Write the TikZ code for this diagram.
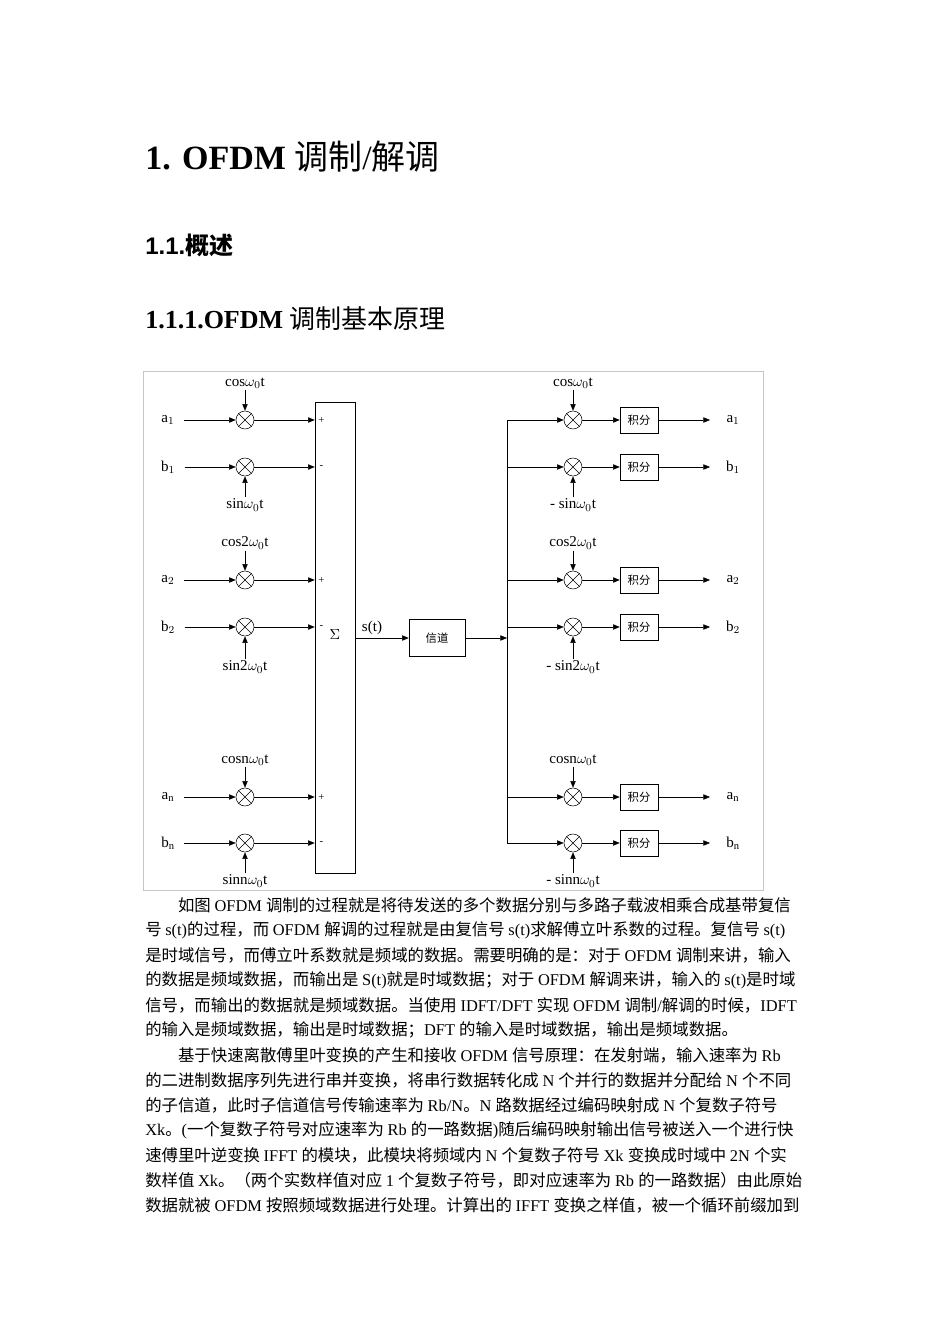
\documentclass[tikz,border=0pt]{standalone}
\usepackage{fontspec}
\setmainfont{Liberation Serif}
\setsansfont{Liberation Sans}
\newfontfamily\cjkf{Noto Sans CJK SC}
\usetikzlibrary{arrows.meta}
\newcount\mycnt
\newXeTeXintercharclass\cjkcls
\def\setcls#1#2{\mycnt=#1\relax\loop\XeTeXcharclass\mycnt=\cjkcls\ifnum\mycnt<#2\advance\mycnt1\repeat}
\setcls{"3000}{"303F}
\setcls{"4E00}{"9FFF}
\setcls{"FF00}{"FFEF}
\def\latinfam{\rmfamily}
\XeTeXinterchartoks 0 \cjkcls = {\cjkf}
\XeTeXinterchartoks 4095 \cjkcls = {\cjkf}
\XeTeXinterchartoks \cjkcls 0 = {\latinfam}
\XeTeXinterchartoks 4095 0 = {\latinfam}
\XeTeXinterchartokenstate=1
\tikzset{
  mix/.style={circle,draw,minimum size=13.5,inner sep=0},
  lbl/.style={font=\fontsize{11.3}{13}\selectfont,inner sep=1},
  intbox/.style={draw,minimum width=28.5,minimum height=19.5,inner sep=0,font=\fontsize{8.5}{10}\selectfont},
  para/.style={anchor=west,text width=495pt,align=justify,inner sep=0,font=\fontsize{12.3}{15}\selectfont},
  >={Triangle[length=5pt,width=4pt]}
}
\newcommand\cross[1]{\draw (#1.north west)--(#1.south east) (#1.north east)--(#1.south west);}
\newcommand\lrow[4]{% name y inlabel sign
  \node[mix] (L#1) at (245,#2) {}; \cross{L#1}
  \node[lbl,anchor=center] (li#1) at (168,#2) {#3};
  \draw[->] ([xshift=6]li#1.east) -- (L#1.west);
  \draw[->] (L#1.east) -- (L#1.east -| sum.west);
  \node[lbl,font=\fontsize{8}{9}\selectfont] (sg#1) at ([xshift=5]L#1.east -| sum.west) {#4};
}
\newcommand\rrow[3]{% name y outlabel
  \node[mix] (R#1) at (573,#2) {}; \cross{R#1}
  \node[intbox] (I#1) at (639,#2) {积分};
  \coordinate (o#1) at (710,#2);
  \node[lbl] (ro#1) at (733,#2) {#3};
  \draw[->] (R#1.west -| bus) -- (R#1.west);
  \draw[->] (R#1.east) -- (I#1.west);
  \draw[->] (I#1.east) -- (o#1);
}
\begin{document}
\begin{tikzpicture}[x=0.75pt,y=-0.75pt]
\useasboundingbox (0,0) rectangle (950,1344);
% headings
\node[anchor=base west,inner sep=0,font=\fontsize{25.5}{30}\selectfont\bfseries] (h1) at (145,170) {1. OFDM {\mdseries 调制/解调}};
\node[anchor=base west,inner sep=0,font=\fontsize{18}{20}\selectfont\bfseries\sffamily] (h2) at (145,255) {\def\latinfam{\sffamily}1.1.概述};
\node[anchor=base west,inner sep=0,font=\fontsize{19.5}{24}\selectfont\bfseries] (h3) at (145,329) {1.1.1.OFDM {\mdseries 调制基本原理}};
% frame
\draw[gray!45] (143,371) rectangle (763,890);
% sum box
\node[draw,minimum width=30,minimum height=353,inner sep=0] (sum) at (335,637.5) {};
\node[lbl] (sig) at (335,635) {$\Sigma$};
% left rows
\lrow{a1}{420}{a$_1$}{+}
\lrow{b1}{467}{b$_1$}{-}
\lrow{a2}{580}{a$_2$}{+}
\lrow{b2}{627}{b$_2$}{-}
\lrow{an}{797}{a$_\mathrm{n}$}{+}
\lrow{bn}{843}{b$_\mathrm{n}$}{-}
\node[lbl] (ca1) at (245,383) {cos$\omega_0$t}; \draw[->] (ca1.south) -- (La1.north);
\node[lbl] (sb1) at (245,505) {sin$\omega_0$t}; \draw[->] (sb1.north) -- (Lb1.south);
\node[lbl] (ca2) at (245,543) {cos2$\omega_0$t}; \draw[->] (ca2.south) -- (La2.north);
\node[lbl] (sb2) at (245,667) {sin2$\omega_0$t}; \draw[->] (sb2.north) -- (Lb2.south);
\node[lbl] (can) at (245,760) {cosn$\omega_0$t}; \draw[->] (can.south) -- (Lan.north);
\node[lbl] (sbn) at (245,881) {sinn$\omega_0$t}; \draw[->] (sbn.north) -- (Lbn.south);
% channel
\node[draw,minimum width=42,minimum height=28,inner sep=0,font=\fontsize{8.5}{10}\selectfont] (ch) at (437,638) {信道};
\draw[->] (sum.east |- ch) -- (ch.west);
\node[lbl] (st) at (372,628) {s(t)};
\coordinate (bus) at (507,638);
\draw[->] (ch.east) -- (bus);
% right rows
\rrow{a1}{420}{a$_1$}
\rrow{b1}{467}{b$_1$}
\rrow{a2}{580}{a$_2$}
\rrow{b2}{627}{b$_2$}
\rrow{an}{797}{a$_\mathrm{n}$}
\rrow{bn}{843}{b$_\mathrm{n}$}
\draw (Ra1.west -| bus) -- (Rbn.west -| bus);
\node[lbl] (rca1) at (573,383) {cos$\omega_0$t}; \draw[->] (rca1.south) -- (Ra1.north);
\node[lbl] (rsb1) at (573,505) {- sin$\omega_0$t}; \draw[->] (rsb1.north) -- (Rb1.south);
\node[lbl] (rca2) at (573,543) {cos2$\omega_0$t}; \draw[->] (rca2.south) -- (Ra2.north);
\node[lbl] (rsb2) at (573,667) {- sin2$\omega_0$t}; \draw[->] (rsb2.north) -- (Rb2.south);
\node[lbl] (rcan) at (573,760) {cosn$\omega_0$t}; \draw[->] (rcan.south) -- (Ran.north);
\node[lbl] (rsbn) at (573,881) {- sinn$\omega_0$t}; \draw[->] (rsbn.north) -- (Rbn.south);
% paragraphs
\XeTeXlinebreaklocale "zh"
\XeTeXlinebreakskip=0pt plus 3pt
\node[para] (p1) at (145,905) {\parfillskip=0pt\hspace*{2em}如图 OFDM 调制的过程就是将待发送的多个数据分别与多路子载波相乘合成基带复信};
\node[para] (p2) at (145,930) {\parfillskip=0pt 号 s(t)的过程，而 OFDM 解调的过程就是由复信号 s(t)求解傅立叶系数的过程。复信号 s(t)};
\node[para] (p3) at (145,955) {\parfillskip=0pt 是时域信号，而傅立叶系数就是频域的数据。需要明确的是：对于 OFDM 调制来讲，输入};
\node[para] (p4) at (145,980) {\parfillskip=0pt 的数据是频域数据，而输出是 S(t)就是时域数据；对于 OFDM 解调来讲，输入的 s(t)是时域};
\node[para] (p5) at (145,1005) {\parfillskip=0pt 信号，而输出的数据就是频域数据。当使用 IDFT/DFT 实现 OFDM 调制/解调的时候，IDFT};
\node[para] (p6) at (145,1030) {的输入是频域数据，输出是时域数据；DFT 的输入是时域数据，输出是频域数据。};
\node[para] (p7) at (145,1055) {\parfillskip=0pt\hspace*{2em}基于快速离散傅里叶变换的产生和接收 OFDM 信号原理：在发射端，输入速率为 Rb};
\node[para] (p8) at (145,1080) {\parfillskip=0pt 的二进制数据序列先进行串并变换，将串行数据转化成 N 个并行的数据并分配给 N 个不同};
\node[para] (p9) at (145,1105) {\parfillskip=0pt 的子信道，此时子信道信号传输速率为 Rb/N。N 路数据经过编码映射成 N 个复数子符号};
\node[para] (p10) at (145,1130) {\parfillskip=0pt Xk。(一个复数子符号对应速率为 Rb 的一路数据)随后编码映射输出信号被送入一个进行快};
\node[para] (p11) at (145,1155) {\parfillskip=0pt 速傅里叶逆变换 IFFT 的模块，此模块将频域内 N 个复数子符号 Xk 变换成时域中 2N 个实};
\node[para] (p12) at (145,1180) {\parfillskip=0pt 数样值 Xk。（两个实数样值对应 1 个复数子符号，即对应速率为 Rb 的一路数据）由此原始};
\node[para] (p13) at (145,1205) {\parfillskip=0pt 数据就被 OFDM 按照频域数据进行处理。计算出的 IFFT 变换之样值，被一个循环前缀加到};
\end{tikzpicture}
\end{document}
